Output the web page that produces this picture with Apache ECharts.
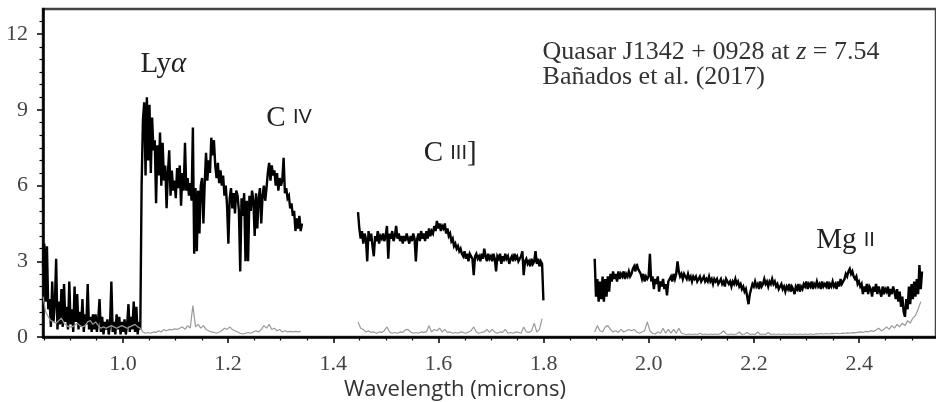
<!DOCTYPE html>
<html>
<head>
<meta charset="utf-8">
<script src="https://cdn.jsdelivr.net/npm/echarts@6/dist/echarts.min.js"></script>
<style>
  html, body { margin: 0; padding: 0; background: #fff; }
  #chart { width: 936px; height: 402px; }
</style>
</head>
<body>
<div id="chart"></div>
<script>
// Quasar J1342+0928 near-infrared spectrum: flux (black) and 1-sigma noise (grey),
// three wavelength segments sampled on regular grids.

// Wavelength grids (microns): start and spacing for each segment
const fluxStep = 0.0025;
const noiseStep = 0.005;
const seg1Start = 0.848;
const seg2Start = 1.447;
const seg3Start = 1.897;

// Flux, segment 1 (0.848 - 1.34 microns)
const flux1 = [
  2.8,3.7,1.4,3.6,1.1,1.5,0.4,2.2,0.6,1.3,
  3.1,0.3,1.4,0.5,1.9,0.4,2.1,0.6,1.2,0.3,
  2.2,0.5,1.1,0.2,2.0,0.6,1.7,0.3,1.0,0.4,
  1.5,0.2,0.9,0.5,2.1,0.3,0.8,0.2,0.9,0.3,
  0.9,0.2,0.7,1.5,0.2,0.8,0.1,0.6,0.3,0.7,
  0.1,0.5,2.2,0.2,0.6,0.1,0.9,0.3,0.8,0.1,
  0.6,0.2,0.7,0.1,0.5,1.3,0.2,0.8,0.3,1.4,
  0.2,1.2,0.1,0.6,0.3,
  6.0,8.6,9.3,6.4,9.5,7.0,9.2,6.5,8.7,7.4,
  7.8,5.3,7.6,6.4,8.1,6.0,7.7,6.2,6.8,5.1,
  6.5,7.4,5.6,6.6,5.8,6.2,5.5,6.7,5.9,6.8,
  5.2,6.5,5.8,7.7,5.8,6.3,5.6,6.1,5.4,8.3,
  3.3,5.9,3.4,5.8,4.1,6.0,6.3,4.5,6.1,7.3,
  6.2,7.0,6.5,7.9,7.2,7.8,6.8,6.3,6.9,6.1,
  6.6,6.0,6.4,5.6,6.0,5.2,3.7,5.5,5.9,5.1,
  5.7,4.9,5.8,5.6,5.0,2.6,5.5,4.8,5.7,3.0,
  5.4,3.0,5.6,5.0,5.8,5.4,4.0,5.7,4.3,5.5,
  5.9,4.5,5.6,6.0,5.4,5.9,6.5,6.9,6.2,6.8,
  6.4,6.6,6.0,6.5,5.8,6.3,6.0,6.2,7.1,5.7,
  5.9,5.5,5.6,5.1,5.3,4.8,5.0,4.2,4.7,4.3,
  4.8,4.2,4.5
];

// Flux, segment 2 (1.447 - 1.80 microns)
const flux2 = [
  4.95,4.3,3.9,4.2,3.7,4.1,3.9,3.0,4.2,3.8,
  4.1,3.6,3.2,4.0,3.8,4.2,3.7,4.0,3.9,4.1,
  3.8,4.0,4.4,3.1,4.1,3.9,4.2,3.8,4.0,4.4,
  3.9,4.1,3.8,4.0,3.7,4.0,3.8,4.1,3.9,3.7,
  4.0,3.8,4.1,3.9,3.0,3.9,4.1,3.8,4.2,3.9,
  4.1,3.8,4.2,3.9,4.3,4.0,4.2,4.1,4.4,4.2,
  4.6,4.3,4.5,4.2,4.4,4.3,4.5,4.1,4.3,4.0,
  4.1,3.8,3.9,3.6,3.7,3.5,3.6,3.4,3.5,3.3,
  3.2,3.4,3.1,3.3,3.0,3.3,3.2,3.1,2.45,3.2,
  3.3,3.1,3.2,3.0,3.3,3.1,3.5,3.2,3.0,3.3,
  3.1,3.2,3.0,3.3,3.1,2.6,3.2,3.1,3.3,2.9,
  3.2,3.0,3.3,3.1,3.2,2.9,3.1,3.2,3.0,3.3,
  3.1,3.2,3.0,3.1,3.2,3.4,2.45,3.0,3.1,2.9,
  3.0,2.8,3.1,2.9,3.0,3.4,2.9,3.1,2.8,3.0,
  2.9,1.45
];

// Flux, segment 3 (1.897 - 2.52 microns)
const flux3 = [
  3.1,1.6,2.3,1.4,2.2,1.5,2.4,1.4,2.3,1.6,
  2.4,1.8,2.5,2.2,2.6,2.3,2.5,2.2,2.6,2.3,
  2.5,2.4,2.6,2.3,2.5,2.4,2.6,2.4,2.5,2.7,
  2.8,2.6,2.9,2.7,2.6,2.5,2.3,2.5,2.2,2.4,
  2.3,2.4,3.3,2.2,2.4,1.9,2.3,2.1,2.4,1.8,
  2.2,2.0,2.3,1.9,2.1,1.65,2.2,2.3,2.4,2.2,
  2.5,2.3,2.5,3.0,2.6,2.4,2.5,2.3,2.5,2.4,
  2.3,2.5,2.3,2.4,2.2,2.4,2.3,2.4,2.2,2.3,
  2.4,2.2,2.3,2.4,2.2,2.3,2.2,2.4,2.2,2.3,
  2.1,2.3,2.2,2.3,2.1,2.2,2.3,2.1,2.2,2.0,
  2.3,2.2,2.1,2.2,2.0,2.2,2.1,2.3,2.1,2.2,
  2.0,2.1,1.9,2.0,1.8,1.9,1.6,1.3,1.7,1.9,
  2.1,2.0,2.2,2.0,2.1,1.9,2.2,2.0,2.1,2.3,
  2.1,2.2,2.0,2.2,2.1,2.3,2.1,2.2,2.0,2.1,
  1.9,2.0,2.1,1.9,2.0,1.8,2.0,1.9,2.1,1.8,
  2.0,1.9,1.7,2.0,1.9,2.1,1.8,2.0,1.9,2.1,
  2.0,2.2,1.9,2.1,2.0,2.2,1.9,2.1,2.0,2.2,
  2.0,2.1,1.9,2.2,2.0,2.1,2.0,2.2,1.9,2.1,
  2.0,2.2,2.0,2.1,1.9,2.2,2.0,2.3,2.1,2.2,
  2.3,2.5,2.4,2.6,2.7,2.5,2.6,2.4,2.3,2.4,
  2.1,2.2,2.0,2.1,1.7,2.0,1.8,2.1,1.7,2.0,
  1.9,1.6,2.0,1.8,2.1,1.7,2.0,1.8,1.6,2.0,
  1.7,1.9,1.8,2.0,1.6,1.9,1.7,2.0,1.8,1.5,
  1.9,1.4,1.8,1.2,1.6,1.0,0.8,1.5,1.1,2.0,
  1.3,2.1,1.5,2.2,1.6,2.3,1.7,2.85,1.9,2.6
];

// Noise spectrum, one array per segment
const noise1 = [
  1.6,1.0,0.8,0.65,0.6,0.55,0.65,0.75,0.55,0.45,
  0.4,0.4,0.45,0.55,0.45,0.4,0.45,0.6,0.65,0.5,
  0.6,0.45,0.35,0.4,0.35,0.4,0.45,0.4,0.35,0.4,
  0.45,0.4,0.35,0.4,0.45,0.5,0.4,0.35,0.2,0.15,
  0.18,0.15,0.2,0.18,0.25,0.2,0.3,0.25,0.3,0.28,
  0.32,0.3,0.35,0.4,0.3,0.45,0.35,1.25,0.4,0.5,
  0.35,0.45,0.3,0.25,0.2,0.18,0.15,0.2,0.25,0.35,
  0.3,0.4,0.3,0.25,0.2,0.15,0.12,0.15,0.18,0.15,
  0.2,0.25,0.2,0.3,0.45,0.35,0.5,0.3,0.35,0.25,
  0.3,0.2,0.25,0.2,0.22,0.2,0.22,0.2,0.22
];
const noise2 = [
  0.6,0.35,0.3,0.2,0.25,0.18,0.2,0.15,0.2,0.18,
  0.25,0.4,0.2,0.15,0.18,0.15,0.2,0.18,0.28,0.3,
  0.2,0.15,0.18,0.15,0.2,0.18,0.2,0.45,0.2,0.3,
  0.25,0.35,0.2,0.3,0.18,0.2,0.15,0.18,0.15,0.2,
  0.18,0.15,0.2,0.25,0.4,0.2,0.15,0.18,0.2,0.3,
  0.18,0.3,0.2,0.15,0.2,0.18,0.3,0.15,0.18,0.15,
  0.2,0.18,0.15,0.4,0.2,0.18,0.25,0.55,0.2,0.3,
  0.73
];
const noise3 = [
  0.2,0.45,0.25,0.2,0.4,0.45,0.3,0.2,0.25,0.18,
  0.3,0.2,0.25,0.3,0.25,0.3,0.2,0.15,0.2,0.25,
  0.6,0.25,0.15,0.12,0.2,0.15,0.35,0.15,0.3,0.15,
  0.3,0.15,0.35,0.15,0.12,0.1,0.12,0.1,0.12,0.1,
  0.15,0.1,0.12,0.1,0.12,0.1,0.12,0.1,0.15,0.25,
  0.12,0.1,0.12,0.1,0.12,0.2,0.1,0.12,0.18,0.1,
  0.12,0.1,0.2,0.1,0.12,0.1,0.18,0.1,0.12,0.1,
  0.12,0.1,0.12,0.1,0.12,0.1,0.12,0.1,0.12,0.1,
  0.12,0.1,0.12,0.1,0.12,0.12,0.14,0.12,0.14,0.12,
  0.14,0.13,0.15,0.13,0.15,0.14,0.16,0.15,0.17,0.16,
  0.18,0.2,0.18,0.22,0.2,0.25,0.22,0.28,0.35,0.25,
  0.3,0.4,0.3,0.45,0.35,0.5,0.4,0.55,0.45,0.65,
  0.55,0.75,0.85,1.1,1.4
];

// Axis ticks
const xTickValues = [1.0, 1.2, 1.4, 1.6, 1.8, 2.0, 2.2, 2.4];
const yTickValues = [0, 3, 6, 9, 12];

// Emission-line labels (anchored at their baseline, in data units) and header text
const lineLabels = [
  { main: 'C', ion: 'IV', tail: '', at: [1.2727, 8.36] },
  { main: 'C', ion: 'III', tail: ']', at: [1.5719, 6.95] },
  { main: 'Mg', ion: 'II', tail: '', at: [2.3183, 3.52] }
];
const lyaAt = [1.0334, 10.50];
const headerAt = [1.7979, 11.0];
const titleLine2 = 'Bañados et al. (2017)';

const X_MIN = 0.848, X_MAX = 2.546, Y_MIN = 0, Y_MAX = 13;

function toPairs(start, step, vals) {
  return vals.map((v, i) => [+(start + i * step).toFixed(5), v]);
}

// minor tick positions every 0.05 micron / 0.5 flux unit
const xMinor = [];
for (let k = 17; k <= 50; k++) { if (k % 4 !== 0) xMinor.push(+(k * 0.05).toFixed(2)); }
const yMinor = [];
for (let k = 1; k <= 25; k++) { if (k % 6 !== 0) yMinor.push(k * 0.5); }

const serif = 'Liberation Serif';
const chart = echarts.init(document.getElementById('chart'), null, { renderer: 'canvas' });

function fluxSeries(data) {
  return {
    type: 'line', data, showSymbol: false, symbol: 'none', z: 2,
    lineStyle: { color: '#000', width: 2.4, join: 'miter', miterLimit: 4 }, animation: false, silent: true
  };
}
function noiseSeries(data) {
  return {
    type: 'line', data, showSymbol: false, symbol: 'none', z: 3,
    lineStyle: { color: '#9a9a9a', width: 1.2 }, animation: false, silent: true
  };
}

const tickLabelStyle = { fontFamily: serif, fontSize: 22, color: '#444' };

chart.setOption({
  animation: false,
  backgroundColor: '#fff',
  grid: { left: 43, right: -3, top: 9, bottom: 65, show: true, borderColor: '#444', borderWidth: 2.5, backgroundColor: 'transparent' },
  xAxis: [
    {
      type: 'value', min: X_MIN, max: X_MAX,
      axisLine: { show: true, lineStyle: { color: '#000', width: 2.5 } },
      axisTick: { show: true, customValues: xTickValues, length: 6, lineStyle: { color: '#000', width: 1.5 } },
      axisLabel: { customValues: xTickValues, formatter: v => v.toFixed(1), margin: 16, ...tickLabelStyle },
      splitLine: { show: false }
    },
    {
      type: 'value', min: X_MIN, max: X_MAX, position: 'bottom',
      axisLine: { show: false },
      axisTick: { show: true, customValues: xMinor, length: 3.5, lineStyle: { color: '#000', width: 1.2 } },
      axisLabel: { show: false }, splitLine: { show: false }
    }
  ],
  yAxis: [
    {
      type: 'value', min: Y_MIN, max: Y_MAX,
      axisLine: { show: true, lineStyle: { color: '#000', width: 2.5 } },
      axisTick: { show: true, customValues: yTickValues, length: 6, lineStyle: { color: '#000', width: 1.5 } },
      axisLabel: { customValues: yTickValues, margin: 15, ...tickLabelStyle },
      splitLine: { show: false }
    },
    {
      type: 'value', min: Y_MIN, max: Y_MAX, position: 'left',
      axisLine: { show: false },
      axisTick: { show: true, customValues: yMinor, length: 3.5, lineStyle: { color: '#000', width: 1.2 } },
      axisLabel: { show: false }, splitLine: { show: false }
    }
  ],
  series: [
    fluxSeries(toPairs(seg1Start, fluxStep, flux1)),
    fluxSeries(toPairs(seg2Start, fluxStep, flux2)),
    fluxSeries(toPairs(seg3Start, fluxStep, flux3)),
    noiseSeries(toPairs(seg1Start, noiseStep, noise1)),
    noiseSeries(toPairs(seg2Start, noiseStep, noise2)),
    noiseSeries(toPairs(seg3Start, noiseStep, noise3))
  ]
});

// Text placed at data positions once the axes are laid out
function px(at) { return chart.convertToPixel({ xAxisIndex: 0, yAxisIndex: 0 }, at); }
const LINE_FS = 29, ION_FS = 20, HEAD_FS = 26;
const rich = {
  r: { fontFamily: serif, fontSize: LINE_FS, fill: '#222' },
  i: { fontFamily: serif, fontSize: LINE_FS, fontStyle: 'italic', fill: '#222' },
  s: { fontFamily: 'Liberation Sans', fontSize: ION_FS, fill: '#222' },
  h: { fontFamily: serif, fontSize: HEAD_FS, fill: '#333' },
  hi: { fontFamily: serif, fontSize: HEAD_FS, fontStyle: 'italic', fill: '#333' }
};
// text boxes are bottom-aligned; shift by the font descent so anchors sit on the baseline
function baselineText(at, text, fs, dy) {
  const p = px(at);
  return { type: 'text', x: p[0], y: p[1] + 0.22 * fs + (dy || 0), style: { text, rich, verticalAlign: 'bottom' } };
}
const graphics = [];
graphics.push(baselineText(lyaAt, '{r|Ly}{i|α}', LINE_FS));
lineLabels.forEach(l => {
  const txt = '{r|' + l.main + ' }{s|' + l.ion + '}' + (l.tail ? '{r|' + l.tail + '}' : '');
  graphics.push(baselineText(l.at, txt, LINE_FS));
});
graphics.push(baselineText(headerAt, '{h|Quasar J1342 + 0928 at }{hi|z}{h| = 7.54}', HEAD_FS));
graphics.push(baselineText(headerAt, '{h|' + titleLine2 + '}', HEAD_FS, 24.5));
graphics.push({
  type: 'text', x: 455, y: 401,
  style: { text: 'Wavelength (microns)', fontFamily: 'Open Sans', fontSize: 22, fill: '#333', align: 'center', verticalAlign: 'bottom' }
});
chart.setOption({ graphic: graphics });
</script>
</body>
</html>
